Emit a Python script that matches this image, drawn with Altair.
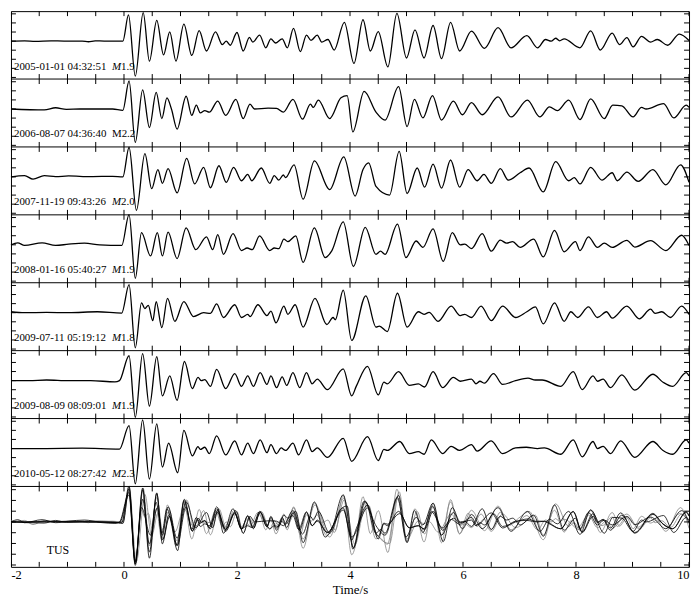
import altair as alt
import pandas as pd

FONT = "Liberation Serif, Times New Roman, serif"

# ---------------- axis values ----------------
X_MIN, X_MAX = -2, 10
x_label_values = [-2, 0, 2, 4, 6, 8, 10]
x_tick_values = [-2, -1.5, -1, -0.5, 0, 0.5, 1, 1.5, 2, 2.5, 3, 3.5, 4, 4.5, 5,
                 5.5, 6, 6.5, 7, 7.5, 8, 8.5, 9, 9.5, 10]
AMP_TOP, AMP_BOTTOM = 94, -119          # amplitude range of every panel
y_tick_amps = [-114, -85.5, -57, -28.5, 0, 28.5, 57, 85.5]

# ---------------- event labels ----------------
dates = ["2005-01-01 04:32:51", "2006-08-07 04:36:40", "2007-11-19 09:43:26",
         "2008-01-16 05:40:27", "2009-07-11 05:19:12", "2009-08-09 08:09:01",
         "2010-05-12 08:27:42"]
mags = ["1.9", "2.2", "2.0", "1.9", "1.8", "1.9", "2.3"]
m_italic = [True, False, True, True, True, True, True]
station = "TUS"
station_t, station_amp = -1.17, -75
label_amp = -80

# ---------------- waveforms: [time s, amplitude] ----------------
trace1 = [[-2.0, 0], [-1.76, 1], [-1.57, -1], [-1.29, 1], [-1.06, 0], [-0.74, 0], [-0.63, -2],
          [-0.51, 1], [-0.35, 0], [-0.10, 0], [-0.02, 0],
          [0.08, 82], [0.20, -110], [0.34, 89], [0.45, -63], [0.58, 65], [0.70, -43], [0.81, 29],
          [0.92, -63], [1.06, 53], [1.20, -45], [1.33, 33], [1.46, -31], [1.62, 29], [1.74, -11],
          [1.81, 0], [1.88, -13], [2.00, 27], [2.11, -31], [2.22, 12], [2.28, -3], [2.40, 19],
          [2.51, -21], [2.60, 7], [2.68, -6], [2.80, 7], [2.89, -21], [3.00, 40], [3.12, -33],
          [3.23, 19], [3.31, 2], [3.42, 19], [3.50, -3], [3.61, 5], [3.72, -28], [3.90, 59],
          [4.07, -70], [4.23, 67], [4.36, -31], [4.50, 30], [4.67, -81], [4.83, 87], [5.00, -53],
          [5.15, 35], [5.31, -53], [5.47, 49], [5.62, -55], [5.78, 59], [5.94, -31], [6.15, 31],
          [6.38, -23], [6.62, 42], [6.85, -21], [7.13, 17], [7.32, -21], [7.46, 5], [7.56, 0],
          [7.64, 9], [7.71, 1], [7.79, 7], [8.07, -21], [8.26, 32], [8.43, -28], [8.64, 25],
          [8.77, -11], [8.90, 11], [9.01, -18], [9.16, 15], [9.32, -3], [9.44, 5], [9.62, -13],
          [9.83, 22], [10.0, 2]]

trace2 = [[-2.0, 0], [-1.41, -3], [-1.21, 4], [-1.02, -1], [-0.78, 0], [-0.51, 0], [-0.20, 0],
          [-0.02, -4],
          [0.09, 88], [0.20, -105], [0.33, 60], [0.45, -58], [0.57, 52], [0.67, -30], [0.76, 35],
          [0.84, 0], [0.94, -63], [1.10, 40], [1.20, -20], [1.28, 12], [1.35, -12], [1.43, -5],
          [1.51, -10], [1.66, 25], [1.80, -20], [1.98, 30], [2.11, -30], [2.23, 15], [2.31, 0],
          [2.55, 3], [2.70, 2], [2.82, -10], [2.99, 30], [3.16, -32], [3.30, 15], [3.35, 5],
          [3.44, 28], [3.64, -30], [3.84, 35], [3.95, 42], [4.05, -72], [4.25, 55], [4.46, -10],
          [4.62, -35], [4.86, 70], [5.01, -55], [5.14, 30], [5.29, -28], [5.46, 42], [5.62, -35],
          [5.83, 25], [5.99, -18], [6.15, 20], [6.34, -18], [6.62, 38], [6.85, -25], [7.14, 28],
          [7.36, -25], [7.53, 7], [7.67, -5], [7.87, 28], [8.07, -33], [8.26, 32], [8.50, -30],
          [8.65, 12], [8.81, 10], [9.01, -25], [9.16, 5], [9.24, 0], [9.55, 17], [9.73, -28],
          [9.95, 12], [10.0, 5]]

trace3 = [[-2.0, 0], [-1.76, 4], [-1.61, -7], [-1.41, 4], [-1.21, 1], [-0.98, 3], [-0.59, 1],
          [-0.20, 2], [-0.02, 0],
          [0.09, 93], [0.22, -105], [0.37, 73], [0.49, -37], [0.60, 23], [0.68, -20], [0.78, 26],
          [0.94, -50], [1.11, 58], [1.25, -22], [1.41, 30], [1.53, -34], [1.68, 35], [1.81, -17],
          [1.94, 30], [2.08, -12], [2.19, 8], [2.26, -12], [2.43, 28], [2.58, -20], [2.66, 4],
          [2.74, -10], [2.82, 6], [2.86, -2], [3.01, 38], [3.17, -70], [3.37, 50], [3.64, -40],
          [3.89, 63], [4.09, -60], [4.23, 23], [4.33, 44], [4.46, -30], [4.70, -57], [4.87, 80],
          [5.01, -52], [5.19, 28], [5.32, -32], [5.47, 40], [5.62, -35], [5.78, 53], [5.94, -32],
          [6.09, 23], [6.25, -12], [6.37, 8], [6.50, -20], [6.66, 26], [6.80, -10], [7.01, 13],
          [7.17, 28], [7.42, -47], [7.64, 48], [7.87, -12], [7.97, -2], [8.07, -22], [8.26, 30],
          [8.46, -10], [8.64, 13], [8.73, -12], [8.90, 15], [9.10, -14], [9.36, 23], [9.59, -25],
          [9.85, 38], [10.0, -17]]

trace4 = [[-2.0, 0], [-1.88, 6], [-1.76, -2], [-1.45, 6], [-1.21, -2], [-0.98, 2], [-0.70, 5],
          [-0.43, 0], [-0.04, -2],
          [0.09, 95], [0.20, -105], [0.31, 38], [0.47, -35], [0.59, 38], [0.68, -35], [0.78, 40],
          [0.94, -43], [1.10, 53], [1.27, -15], [1.46, 25], [1.57, -15], [1.66, 32], [1.76, -30],
          [1.93, 35], [2.08, -18], [2.18, -10], [2.27, -15], [2.40, 28], [2.58, -18], [2.66, -10],
          [2.74, -12], [2.83, 18], [2.90, 10], [3.04, 28], [3.17, -55], [3.37, 53], [3.56, -40],
          [3.68, -18], [3.88, 72], [4.06, -68], [4.27, 55], [4.46, -30], [4.54, -20], [4.62, -30],
          [4.84, 65], [4.99, -40], [5.17, 12], [5.29, -8], [5.47, 50], [5.65, -52], [5.81, 38],
          [5.95, 0], [6.03, 2], [6.15, -12], [6.34, 35], [6.50, -20], [6.66, 15], [6.77, 5],
          [6.88, 10], [7.01, -8], [7.25, 18], [7.42, -38], [7.62, 45], [7.79, -22], [7.99, 10],
          [8.07, -18], [8.22, 25], [8.38, -8], [8.50, 5], [8.64, -8], [8.90, 14], [9.04, -7],
          [9.32, 13], [9.59, -18], [9.87, 30], [10.0, -2]]

trace5 = [[-2.0, 3], [-1.76, 0], [-1.37, 1], [-0.98, 0], [-0.47, 3], [-0.04, -1],
          [0.09, 88], [0.20, -110], [0.31, 31], [0.37, 13], [0.43, 23], [0.51, -25], [0.57, 35],
          [0.67, -47], [0.77, 45], [0.90, -27], [1.06, 35], [1.23, -12], [1.41, 0], [1.53, -2],
          [1.64, 28], [1.76, -15], [1.96, 25], [2.08, -15], [2.19, -5], [2.23, -12], [2.37, 25],
          [2.53, -9], [2.60, 5], [2.69, -32], [2.83, 21], [2.90, -5], [3.03, 25], [3.17, -45],
          [3.38, 45], [3.59, -37], [3.70, -15], [3.74, -22], [3.88, 71], [4.03, -87], [4.28, 53],
          [4.46, -45], [4.52, -42], [4.66, -59], [4.84, 61], [5.01, -45], [5.21, 3], [5.31, -5],
          [5.40, 1], [5.56, -27], [5.79, 21], [5.95, -9], [6.03, -5], [6.15, -15], [6.32, 21],
          [6.50, -25], [6.70, 21], [6.93, -15], [7.13, 3], [7.28, 18], [7.42, -35], [7.62, 31],
          [7.79, -27], [7.91, 3], [8.03, -15], [8.22, 18], [8.38, -15], [8.54, 3], [8.64, -17],
          [8.90, 21], [9.12, -19], [9.32, 11], [9.40, -2], [9.52, 3], [9.67, -15], [9.87, 21],
          [10.0, -5]]

trace6 = [[-2.0, 0], [-1.68, 0], [-1.37, 2], [-0.98, 0], [-0.59, 0], [-0.16, -4], [-0.08, 0],
          [0.09, 78], [0.20, -115], [0.33, 85], [0.45, -80], [0.58, 75], [0.68, -48], [0.81, 15],
          [0.94, -62], [1.07, 60], [1.21, -25], [1.31, 10], [1.37, 0], [1.43, 3], [1.53, -18],
          [1.64, 35], [1.80, -25], [1.96, 22], [2.08, -18], [2.19, 15], [2.29, -18], [2.41, 25],
          [2.53, -12], [2.60, 15], [2.70, -22], [2.80, 12], [2.88, -15], [2.99, 25], [3.11, -22],
          [3.23, 25], [3.33, -10], [3.42, 5], [3.60, -28], [3.88, 37], [4.03, -48], [4.11, -18],
          [4.31, 45], [4.50, -45], [4.60, -5], [4.66, -10], [4.86, 28], [5.05, -15], [5.21, -10],
          [5.32, -20], [5.47, 28], [5.64, -22], [5.83, 10], [5.95, -2], [6.15, 5], [6.23, -10],
          [6.30, -2], [6.38, -8], [6.54, 22], [6.70, -12], [6.93, 0], [7.15, 8], [7.28, 2],
          [7.40, 2], [7.73, -18], [7.95, 28], [8.11, -28], [8.30, 15], [8.38, -2], [8.48, 5],
          [8.61, -22], [8.81, 18], [9.04, -30], [9.36, 20], [9.54, -5], [9.71, -18], [9.95, 25],
          [10.0, 15]]

trace7 = [[-2.0, 0], [-1.37, 0], [-0.74, 1], [-0.08, -2],
          [0.09, 72], [0.20, -111], [0.33, 90], [0.45, -96], [0.58, 77], [0.68, -58], [0.79, 17],
          [0.95, -76], [1.06, 57], [1.21, -23], [1.31, 6], [1.35, -3], [1.43, 4], [1.51, -16],
          [1.64, 40], [1.80, -20], [1.96, 24], [2.08, -20], [2.19, 17], [2.29, -16], [2.41, 27],
          [2.53, -13], [2.60, 12], [2.70, -16], [2.78, 2], [2.86, -6], [2.99, 17], [3.09, -20],
          [3.23, 27], [3.33, -10], [3.42, 2], [3.60, -28], [3.88, 32], [4.03, -40], [4.31, 37],
          [4.50, -38], [4.60, -3], [4.66, -6], [4.88, 22], [5.05, -16], [5.21, -10], [5.31, -18],
          [5.44, 27], [5.64, -16], [5.79, 7], [5.94, -6], [6.15, 12], [6.25, -8], [6.50, 24],
          [6.70, -16], [6.93, 2], [7.12, 4], [7.32, 0], [7.44, 2], [7.73, -18], [7.95, 27],
          [8.11, -26], [8.30, 22], [8.38, 0], [8.48, 7], [8.61, -16], [8.79, 24], [9.04, -28],
          [9.36, 22], [9.54, -6], [9.71, -18], [9.95, 27], [10.0, 17]]

traces = [trace1, trace2, trace3, trace4, trace5, trace6, trace7]
overlay_shade = ["gray", "black", "gray", "black", "gray", "black", "black"]

# ---------------- layout (styling, not data) ----------------
W = 683
PANEL_H = 68.4
OVER_H = 81.0
heights = [PANEL_H] * 7 + [OVER_H]
tops = []
acc = 0.0
for h in heights:
    tops.append(acc)
    acc += h
H = acc


def ypos(panel, amp):
    return tops[panel] + (AMP_TOP - amp) * heights[panel] / (AMP_TOP - AMP_BOTTOM)


rows = []
for i, tr in enumerate(traces):
    for t, a in tr:
        rows.append({"trace": i, "t": t, "y": ypos(i, a), "kind": "single", "shade": "black"})
        rows.append({"trace": i, "t": t, "y": ypos(7, a), "kind": "overlay", "shade": overlay_shade[i]})
lines_df = pd.DataFrame(rows)

bounds = tops + [H]
xt_rows = [{"t": t, "y": b, "y2": b} for b in bounds for t in x_tick_values]
xt_df = pd.DataFrame(xt_rows)

yt_rows = []
for p in range(8):
    for a in y_tick_amps:
        yy = ypos(p, a)
        yt_rows.append({"side": "L", "t": X_MIN, "t2": X_MIN, "y": yy})
        yt_rows.append({"side": "R", "t": X_MAX, "t2": X_MAX, "y": yy})
yt_df = pd.DataFrame(yt_rows)

sep_df = pd.DataFrame({"y": tops[1:]})

LAB_FS = 11
WIDTHS = {"-": 0.333, ":": 0.278, " ": 0.25, ".": 0.25}


def text_w(s, size):
    return sum(WIDTHS.get(c, 0.5) for c in s) * size


lab_df = pd.DataFrame({
    "t": [X_MIN] * 7,
    "y": [ypos(i, label_amp) for i in range(7)],
    "date": dates,
    "mag": mags,
    "italic": m_italic,
    "mfull": ["M" + m for m in mags],
})
dx_date = 3
dx_m = dx_date + text_w(dates[0] + "  ", LAB_FS)
dx_mag = dx_m + 0.833 * LAB_FS

st_df = pd.DataFrame({"t": [station_t], "y": [ypos(7, station_amp)], "name": [station]})

# ---------------- encodings ----------------
xscale = alt.Scale(domain=[X_MIN, X_MAX], nice=False, zero=False)
yscale = alt.Scale(domain=[0, H], reverse=True, nice=False, zero=False)
xaxis = alt.Axis(values=x_label_values, labelExpr="'' + datum.value", ticks=False, domain=False,
                 grid=False, labelFont=FONT, labelFontSize=12.5, labelColor="black", labelPadding=2,
                 labelFlush=True,
                 title="Time/s", titleFont=FONT, titleFontSize=13, titleFontWeight="normal",
                 titleColor="black", titlePadding=2)
X = alt.X("t:Q", scale=xscale, axis=xaxis)
Y = alt.Y("y:Q", scale=yscale, axis=None)

base_lines = alt.Chart(lines_df)
single = base_lines.transform_filter("datum.kind == 'single'").mark_line(
    interpolate="monotone", color="black", strokeWidth=1.3).encode(x=X, y=Y, detail="trace:N")
over_gray = base_lines.transform_filter("datum.kind == 'overlay' && datum.shade == 'gray'").mark_line(
    interpolate="monotone", color="#858585", strokeWidth=0.8, clip=True).encode(x=X, y=Y, detail="trace:N")
over_black = base_lines.transform_filter("datum.kind == 'overlay' && datum.shade == 'black'").mark_line(
    interpolate="monotone", color="black", strokeWidth=0.8, clip=True).encode(x=X, y=Y, detail="trace:N")

seps = alt.Chart(sep_df).mark_rule(color="black", strokeWidth=1).encode(y=Y)

xticks = alt.Chart(xt_df).mark_rule(color="black", strokeWidth=1, yOffset=-5, y2Offset=5, clip=True).encode(
    x=X, y=Y, y2="y2:Q")

yt_base = alt.Chart(yt_df)
yticks_l = yt_base.transform_filter("datum.side == 'L'").mark_rule(
    color="black", strokeWidth=1, x2Offset=5).encode(x=X, x2="t2:Q", y=Y)
yticks_r = yt_base.transform_filter("datum.side == 'R'").mark_rule(
    color="black", strokeWidth=1, xOffset=-5).encode(x=X, x2="t2:Q", y=Y)

lab_base = alt.Chart(lab_df)
txt_kw = dict(align="left", baseline="middle", font=FONT, fontSize=LAB_FS, color="black")
date_txt = lab_base.mark_text(dx=dx_date, **txt_kw).encode(x=X, y=Y, text="date:N")
m_it = lab_base.transform_filter("datum.italic").mark_text(dx=dx_m, fontStyle="italic", **txt_kw).encode(
    x=X, y=Y, text=alt.value("M"))
mag_it = lab_base.transform_filter("datum.italic").mark_text(dx=dx_mag, **txt_kw).encode(
    x=X, y=Y, text="mag:N")
m_norm = lab_base.transform_filter("!datum.italic").mark_text(dx=dx_m, **txt_kw).encode(
    x=X, y=Y, text="mfull:N")

st_txt = alt.Chart(st_df).mark_text(align="center", baseline="middle", font=FONT, fontSize=12,
                                    color="black").encode(x=X, y=Y, text="name:N")

chart = alt.layer(
    over_gray, over_black, single, seps, xticks, yticks_l, yticks_r,
    date_txt, m_it, mag_it, m_norm, st_txt
).properties(
    width=W, height=H, padding=0, background="white"
).configure_view(
    stroke="black", strokeWidth=1
)

chart.save("out.html", embed_options={"renderer": "svg", "actions": False})
